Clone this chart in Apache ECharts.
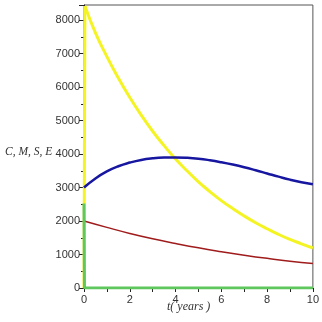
<!DOCTYPE html>
<html>
<head>
<meta charset="utf-8">
<script src="https://cdn.jsdelivr.net/npm/echarts@6/dist/echarts.min.js"></script>
<style>
html,body{margin:0;padding:0;background:#fff;}
#main{width:322px;height:322px;}
</style>
</head>
<body>
<div id="main"></div>
<script>
// values
var yellowSpikeT = [0, 0.04];
var yellowSpikeV = [0, 8420];
var yellowT = [0.04, 0.5, 1, 1.5, 2, 2.5, 3, 3.5, 4, 4.5, 5, 5.5, 6, 6.5, 7, 7.5, 8, 8.5, 9, 9.5, 10];
var yellowV = [8420, 7620, 6910, 6270, 5690, 5160, 4680, 4250, 3850, 3500, 3170, 2880, 2610, 2370, 2150, 1950, 1770, 1600, 1450, 1320, 1195];
var blueT = [0, 0.5, 1, 1.5, 2, 2.5, 3, 3.5, 4, 4.5, 5, 5.5, 6, 6.5, 7, 7.5, 8, 8.5, 9, 9.5, 10];
var blueV = [3000, 3270, 3480, 3635, 3745, 3825, 3872, 3895, 3900, 3890, 3862, 3815, 3755, 3685, 3605, 3515, 3420, 3325, 3235, 3160, 3100];
var redT = [0, 1, 2, 3, 4, 5, 6, 7, 8, 9, 10];
var redV = [2000, 1810, 1630, 1470, 1330, 1200, 1085, 980, 885, 800, 735];
var greenT = [0, 0.02, 10];
var greenV = [2520, 0, 0];
var xTicks = [0, 2, 4, 6, 8, 10];

function pairs(t, v) {
	var out = [];
	for (var i = 0; i < t.length; i++) out.push([t[i], v[i]]);
	return out;
}

var myChart = echarts.init(document.getElementById('main'));
var option = {
	animation: false,
	grid: {left: 84, right: 9, top: 5, bottom: 34, show: true, borderColor: '#555', borderWidth: 1},
	xAxis: {
		type: 'value', min: 0, max: 10, interval: 2,
		axisLine: {lineStyle: {color: '#222', width: 1}},
		axisTick: {length: 4, lineStyle: {color: '#222'}},
		minorTick: {show: true, splitNumber: 2, length: 4, lineStyle: {color: '#222'}},
		splitLine: {show: false},
		axisLabel: {color: '#333', fontSize: 11, margin: 6, fontFamily: 'Liberation Sans',
			formatter: function (v) { return xTicks.indexOf(v) >= 0 ? String(v) : ''; }}
	},
	yAxis: {
		type: 'value', min: 0, max: 8450, interval: 1000,
		axisLine: {show: true, lineStyle: {color: '#222', width: 1}},
		axisTick: {show: true, length: 5, lineStyle: {color: '#222'}},
		minorTick: {show: true, splitNumber: 2, length: 3, lineStyle: {color: '#222'}},
		splitLine: {show: false},
		axisLabel: {color: '#333', fontSize: 11, margin: 4, showMaxLabel: false, fontFamily: 'Liberation Sans',
			formatter: function (v) { return String(v); }}
	},
	graphic: [
		{type: 'text', left: 5, top: 146, style: {text: 'C, M, S, E', font: 'italic 11.5px "Liberation Serif"', fill: '#333'}},
		{type: 'text', left: 167, top: 301, style: {text: 't( years )', font: 'italic 12px "Liberation Serif"', fill: '#333'}}
	],
	series: [
		{type: 'line', data: pairs(yellowSpikeT, yellowSpikeV), showSymbol: false,
			lineStyle: {color: '#f4f424', width: 3}},
		{type: 'line', data: pairs(yellowT, yellowV), smooth: true, showSymbol: false,
			lineStyle: {color: '#f4f424', width: 3}},
		{type: 'line', data: pairs(blueT, blueV), smooth: true, showSymbol: false,
			lineStyle: {color: '#1616a0', width: 2.5}},
		{type: 'line', data: pairs(redT, redV), smooth: true, showSymbol: false,
			lineStyle: {color: '#a01c1c', width: 1.5}},
		{type: 'line', data: pairs(greenT, greenV), showSymbol: false,
			lineStyle: {color: '#5ec85e', width: 3}}
	]
};
myChart.setOption(option);
</script>
</body>
</html>
